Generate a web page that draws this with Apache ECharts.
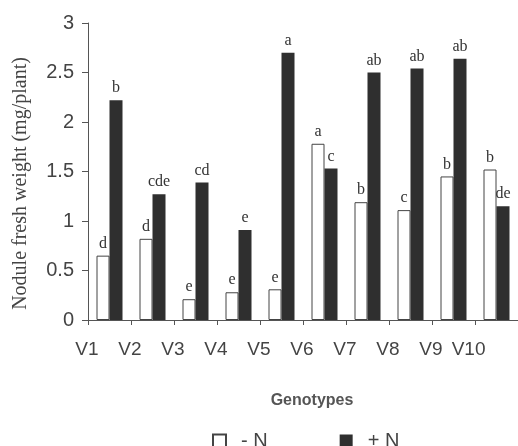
<!DOCTYPE html>
<html>
<head>
<meta charset="utf-8">
<script src="https://cdn.jsdelivr.net/npm/echarts@6/dist/echarts.min.js"></script>
<style>html,body{margin:0;padding:0;background:#fff}#c{width:518px;height:446px}</style>
</head>
<body>
<div id="c"></div>
<script>
var categories = ['V1','V2','V3','V4','V5','V6','V7','V8','V9','V10'];
var minusN = [0.65, 0.82, 0.21, 0.28, 0.31, 1.78, 1.19, 1.11, 1.45, 1.52];
var plusN  = [2.22, 1.27, 1.39, 0.91, 2.70, 1.53, 2.50, 2.54, 2.64, 1.15];
var minusNLetters = ['d','d','e','e','e','a','b','c','b','b'];
var plusNLetters  = ['b','cde','cd','e','a','c','ab','ab','ab','de'];
var yTicks = [0, 0.5, 1, 1.5, 2, 2.5, 3];

var chart = echarts.init(document.getElementById('c'), null, {renderer:'canvas'});
var sans = '"Liberation Sans", Arial, sans-serif';
var serif = '"Liberation Serif", "Times New Roman", serif';
chart.setOption({
  backgroundColor: '#ffffff',
  animation: false,
  grid: {left: 88, right: 0, top: 23, bottom: 126, containLabel: false},
  legend: {
    data: [{name: '- N', icon: 'rect'}, {name: '+ N', icon: 'rect'}],
    left: 207, top: 426,
    itemWidth: 13, itemHeight: 13, itemGap: 72,
    textStyle: {fontFamily: sans, fontSize: 20, color: '#444', padding: [0,0,0,10]}
  },
  xAxis: {
    type: 'category',
    data: categories,
    name: 'Genotypes',
    nameLocation: 'middle',
    nameGap: 73,
    nameTextStyle: {fontFamily: sans, fontSize: 16, fontWeight: 'bold', color: '#555', padding: [0,0,0,18]},
    axisLine: {lineStyle: {color: '#555', width: 1}},
    axisTick: {show: true, length: 5, interval: 0, lineStyle: {color: '#555'}},
    axisLabel: {interval: 0, fontFamily: sans, fontSize: 19, color: '#444', margin: 20, align: 'right', padding: [0, 11, 0, 0]}
  },
  yAxis: {
    type: 'value',
    min: 0, max: 3, interval: 0.5,
    name: 'Nodule fresh weight (mg/plant)',
    nameLocation: 'middle',
    nameGap: 57,
    nameTextStyle: {fontFamily: serif, fontSize: 20, color: '#444', padding: [0, 24, 0, 0]},
    axisLine: {show: true, lineStyle: {color: '#555', width: 1}},
    axisTick: {show: true, length: 6, lineStyle: {color: '#555'}},
    splitLine: {show: false},
    axisLabel: {fontFamily: sans, fontSize: 20, color: '#444', margin: 14,
      formatter: function(v){ return yTicks.indexOf(v) >= 0 ? String(v) : ''; }}
  },
  series: [
    {
      name: '- N', type: 'bar', data: minusN, barWidth: 13, barGap: '0%',
      itemStyle: {color: '#ffffff', borderColor: '#444', borderWidth: 1},
      label: {show: true, position: 'top', distance: 4, fontFamily: serif, fontSize: 16, color: '#333',
        formatter: function(p){ return minusNLetters[p.dataIndex]; }}
    },
    {
      name: '+ N', type: 'bar', data: plusN, barWidth: 13, barGap: '0%',
      itemStyle: {color: '#2f2f2f'},
      label: {show: true, position: 'top', distance: 4, fontFamily: serif, fontSize: 16, color: '#333',
        formatter: function(p){ return plusNLetters[p.dataIndex]; }}
    }
  ]
});
</script>
</body>
</html>
